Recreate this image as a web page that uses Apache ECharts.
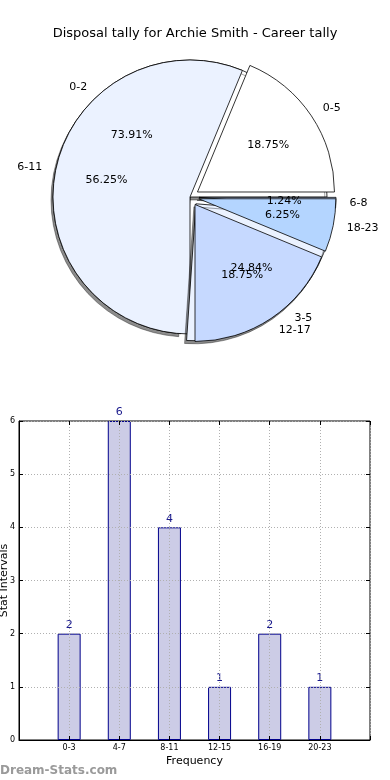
<!DOCTYPE html>
<html><head><meta charset="utf-8">
<script src="https://cdn.jsdelivr.net/npm/echarts@6/dist/echarts.min.js"></script>
<style>html,body{margin:0;padding:0;background:#fff}#c{width:390px;height:780px}</style>
</head><body><div id="c"></div>
<script>
const titleText = 'Disposal tally for Archie Smith - Career tally';
const watermarkText = 'Dream-Stats.com';
const pie1Names = ['0-2', '3-5', '6-8'];
const pie1Values = [73.91, 24.84, 1.24];
const pie1Exploded = [false, true, true];
const pie2Names = ['0-5', '6-11', '12-17', '18-23'];
const pie2Values = [18.75, 56.25, 18.75, 6.25];
const pie2Exploded = [true, false, true, true];
const pieColors = ['#FFFFFF', '#EBF2FF', '#C6D9FF', '#B4D5FF'];
const barCategories = ['0-3', '4-7', '8-11', '12-15', '16-19', '20-23'];
const barValues = [2, 6, 4, 1, 2, 1];
const xAxisName = 'Frequency';
const yAxisName = 'Stat Intervals';

const FONT = 'DejaVu Sans';
const R = 137, C = [190, 197], OFF = 9;

function pieData(names, values, exploded, transparent) {
  return names.map((n, i) => ({
    name: n, value: values[i], selected: exploded[i],
    itemStyle: transparent ? { color: 'rgba(0,0,0,0)', borderWidth: 0 }
      : { color: pieColors[i % pieColors.length] }
  }));
}
const pieBase = {
  type: 'pie', center: C, startAngle: 0, clockwise: false,
  selectedMode: 'multiple', selectedOffset: OFF, avoidLabelOverlap: false,
  animation: false, silent: true, minShowLabelAngle: 0,
  labelLayout: { hideOverlap: false, moveOverlap: null }
};
function visiblePie(names, values, exploded, withShadow) {
  const st = { borderColor: '#000', borderWidth: 0.8 };
  if (withShadow) Object.assign(st, { shadowColor: 'rgba(0,0,0,0.45)', shadowOffsetX: -2, shadowOffsetY: 3, shadowBlur: 0 });
  return Object.assign({}, pieBase, {
    radius: R, z: 2, itemStyle: st, select: { itemStyle: st },
    label: { show: false }, labelLine: { show: false },
    data: pieData(names, values, exploded, false)
  });
}
function nameLabels(names, values, exploded) {
  return Object.assign({}, pieBase, {
    radius: R, z: 5,
    label: { show: true, position: 'outside', formatter: '{b}', color: '#000', fontSize: 11, fontFamily: FONT, distanceToLabelLine: 0 },
    labelLine: { show: false, length: 0.1 * R, length2: 0 },
    select: { itemStyle: { color: 'rgba(0,0,0,0)', borderWidth: 0 } },
    data: pieData(names, values, exploded, true)
  });
}
function pctLabels(names, values, exploded) {
  return Object.assign({}, pieBase, {
    radius: 1.2 * R, z: 5,
    label: { show: true, position: 'inside', formatter: p => p.value.toFixed(2) + '%', color: '#000', fontSize: 11, fontFamily: FONT, textBorderWidth: 0 },
    labelLine: { show: false },
    select: { itemStyle: { color: 'rgba(0,0,0,0)', borderWidth: 0 } },
    data: pieData(names, values, exploded, true)
  });
}

const gridLine = { show: true, lineStyle: { type: [1, 2], color: '#b0b0b0', width: 1 } };
const option = {
  backgroundColor: '#fff',
  title: [
    { text: titleText, left: 'center', top: 22, textStyle: { fontFamily: FONT, fontSize: 13, fontWeight: 'normal', color: '#000' } },
    { text: watermarkText, left: 0, bottom: 3, padding: 0, textStyle: { fontFamily: FONT, fontSize: 12, fontWeight: 'bold', color: '#9a9a9a' } }
  ],
  grid: [{ left: 19, right: 20, top: 421, bottom: 40, show: true, borderColor: '#000', borderWidth: 1, backgroundColor: 'transparent', containLabel: false, outerBoundsMode: 'none' }],
  xAxis: [
    { type: 'value', gridIndex: 0, min: -1, max: 6, interval: 1, position: 'bottom', z: 3,
      name: xAxisName, nameLocation: 'middle', nameGap: 16, nameMoveOverlap: false, nameTextStyle: { fontFamily: FONT, fontSize: 11, color: '#000' },
      axisLine: { show: true, onZero: false, lineStyle: { color: '#000' } },
      axisTick: { show: true, inside: true, length: 4, lineStyle: { color: '#000' } },
      axisLabel: { fontFamily: FONT, fontSize: 8, color: '#000', margin: 4, formatter: v => (barCategories[v] !== undefined ? barCategories[v] : '') },
      splitLine: gridLine },
    { type: 'value', gridIndex: 0, min: -1, max: 6, interval: 1, position: 'top', z: 3,
      axisLine: { show: false, onZero: false }, axisTick: { show: true, inside: true, length: 4, lineStyle: { color: '#000' } },
      axisLabel: { show: false }, splitLine: { show: false } }
  ],
  yAxis: [
    { type: 'value', gridIndex: 0, min: 0, max: 6, interval: 1, position: 'left', z: 3,
      name: yAxisName, nameLocation: 'middle', nameGap: 9, nameMoveOverlap: false, nameTextStyle: { fontFamily: FONT, fontSize: 11, color: '#000' },
      axisLine: { show: true, onZero: false, lineStyle: { color: '#000' } },
      axisTick: { show: true, inside: true, length: 4, lineStyle: { color: '#000' } },
      axisLabel: { fontFamily: FONT, fontSize: 8, color: '#000', margin: 4 },
      splitLine: gridLine },
    { type: 'value', gridIndex: 0, min: 0, max: 6, interval: 1, position: 'right', z: 3,
      axisLine: { show: false, onZero: false }, axisTick: { show: true, inside: true, length: 4, lineStyle: { color: '#000' } },
      axisLabel: { show: false }, splitLine: { show: false } }
  ],
  series: [
    visiblePie(pie1Names, pie1Values, pie1Exploded, true),
    visiblePie(pie2Names, pie2Values, pie2Exploded, false),
    nameLabels(pie1Names, pie1Values, pie1Exploded),
    nameLabels(pie2Names, pie2Values, pie2Exploded),
    pctLabels(pie1Names, pie1Values, pie1Exploded),
    pctLabels(pie2Names, pie2Values, pie2Exploded),
    { type: 'bar', xAxisIndex: 0, yAxisIndex: 0, animation: false, barWidth: 23, z: 2,
      data: barCategories.map((c, i) => [i, barValues[i]]),
      itemStyle: { color: '#CCCCE6', borderColor: '#00008B', borderWidth: 1 },
      label: { show: true, position: 'top', distance: 3, color: '#1a1a8c', fontFamily: FONT, fontSize: 11, formatter: p => String(p.value[1]) } }
  ]
};
const chart = echarts.init(document.getElementById('c'), null, { renderer: 'canvas' });
chart.setOption(option);
</script>
</body></html>
